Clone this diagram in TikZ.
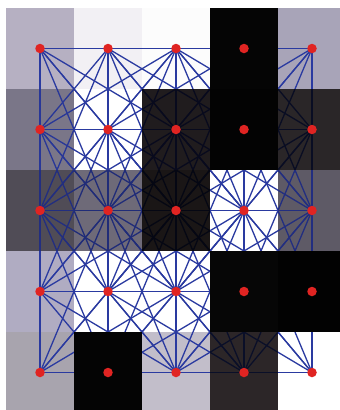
\documentclass[tikz,border=0pt]{standalone}
\usetikzlibrary{calc}
\newcommand\drawAllEdgesHere[1]{%
  \foreach \ra in {1,...,5}{
    \foreach \ca in {1,...,5}{
      \foreach \dr/\dc in {0/1,0/2,1/-2,1/-1,1/0,1/1,1/2,2/-2,2/-1,2/0,2/1,2/2}{
        \pgfmathtruncatemacro\rr{\ra+\dr}
        \pgfmathtruncatemacro\cc{\ca+\dc}
        \ifnum\rr<6 \ifnum\cc>0 \ifnum\cc<6
          \draw[edge,#1] (p-\ra-\ca) -- (p-\rr-\cc);
        \fi\fi\fi
      }
    }
  }%
}
\begin{document}
\begin{tikzpicture}[x=1pt,y=-1pt,
  edge/.style={line width=1.3pt},
  reddot/.style={circle,fill=dotred,inner sep=0pt,minimum size=9.5pt}]
\definecolor{edgeblue}{HTML}{2A3AA0}
\definecolor{dotred}{HTML}{E02422}
\useasboundingbox (0,0) rectangle (340,410);
\fill[white] (0,0) rectangle (340,410);
% grid positions
\foreach \r in {1,...,5}{
  \foreach \c in {1,...,5}{
    \coordinate (p-\r-\c) at ({40+68*(\c-1)},{48.5+81*(\r-1)});
  }
}
% cells, and the edges seen through each cell
\foreach \r/\c/\col/\f in {
  1/1/B6B0C2/100,1/2/F2F0F4/100,1/3/FCFCFC/100,1/4/050505/0,1/5/A8A4B8/100,
  2/1/7A7688/95,2/2/FFFFFF/100,2/3/201C1E/18,2/4/030303/0,2/5/2A2628/22,
  3/1/504C56/80,3/2/6E6A78/75,3/3/1A1616/12,3/4/FFFFFF/100,3/5/5E5A66/80,
  4/1/B0ACC2/100,4/2/FFFFFF/100,4/3/FFFFFF/100,4/4/060606/0,4/5/020202/0,
  5/1/A8A4AE/100,5/2/040404/0,5/3/C2BECA/100,5/4/2C2628/25,5/5/FFFFFF/100}{
  \definecolor{cellcol}{HTML}{\col}
  \fill[cellcol] ($(p-\r-\c)+(-34,-40.5)$) rectangle ($(p-\r-\c)+(34,40.5)$);
  \ifnum\f>0
    \begin{scope}
      \clip ($(p-\r-\c)+(-34,-40.5)$) rectangle ($(p-\r-\c)+(34,40.5)$);
      \colorlet{linecol}{edgeblue!\f!black}
      \drawAllEdgesHere{draw=linecol}
    \end{scope}
  \fi
}
% dots
\foreach \r in {1,...,5}{
  \foreach \c in {1,...,5}{
    \node[reddot] (n-\r-\c) at (p-\r-\c) {};
  }
}
\end{tikzpicture}
\end{document}
